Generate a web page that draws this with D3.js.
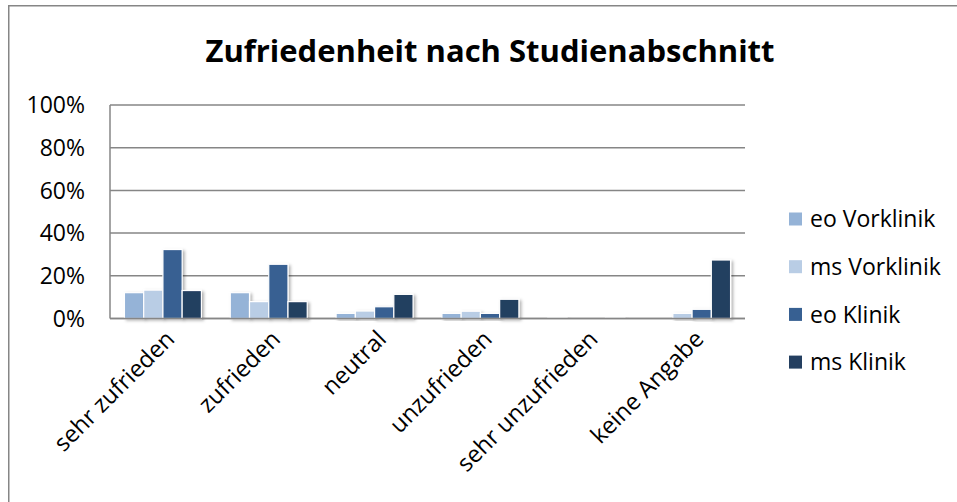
<!DOCTYPE html>
<html>
<head>
<meta charset="utf-8">
<script src="https://cdn.jsdelivr.net/npm/d3@7"></script>
<style>
	body { margin: 0; background: #fff; }
	svg { display: block; font-family: "Open Sans", sans-serif; }
	.title { font-weight: bold; font-size: 31px; fill: #000; }
	.yLabel { font-size: 23px; fill: #000; }
	.xLabel { font-size: 23.5px; fill: #000; }
	.legendText { font-size: 23px; fill: #000; }
	.grid { stroke: #868686; stroke-width: 1.5; }
</style>
</head>
<body>
<div id="vizCont"></div>
<script>
var categories = ['sehr zufrieden', 'zufrieden', 'neutral', 'unzufrieden', 'sehr unzufrieden', 'keine Angabe'];
var seriesNames = ['eo Vorklinik', 'ms Vorklinik', 'eo Klinik', 'ms Klinik'];
var seriesColors = ['#95b3d7', '#b9cde5', '#376092', '#243f60'];

// percentages per category
var eoVorklinik = [12.1, 12.1, 2.4, 2.4, 0.3, 0];
var msVorklinik = [13.3, 7.9, 3.5, 3.4, 0, 2.4];
var eoKlinik    = [32.3, 25.4, 5.5, 2.4, 0, 4.3];
var msKlinik    = [13.1, 7.9, 11.3, 9.0, 0.3, 27.4];

var yTicks = [0, 20, 40, 60, 80, 100];

// wait until everything on page loads
document.addEventListener("DOMContentLoaded", function() {

	var width = 957, height = 502;
	var allSeries = [eoVorklinik, msVorklinik, eoKlinik, msKlinik];

	var svg = d3.select('div#vizCont').append('svg')
		.attr('width', width)
		.attr('height', height);

	var defs = svg.append('defs');
	var shadow = defs.append('filter')
		.attr('id', 'barShadow')
		.attr('x', '-30%').attr('y', '-30%')
		.attr('width', '160%').attr('height', '160%');
	shadow.append('feDropShadow')
		.attr('dx', 2)
		.attr('dy', 1.5)
		.attr('stdDeviation', 1.6)
		.attr('flood-color', '#000')
		.attr('flood-opacity', 0.3);

	// outer frame (cut off at right and bottom)
	svg.append('rect')
		.attr('x', 8.75)
		.attr('y', 5.75)
		.attr('width', width + 20)
		.attr('height', height + 20)
		.attr('fill', 'none')
		.attr('stroke', '#868686')
		.attr('stroke-width', 1.5);

	svg.append('text')
		.attr('class', 'title')
		.attr('x', 490)
		.attr('y', 62)
		.attr('text-anchor', 'middle')
		.text('Zufriedenheit nach Studienabschnitt');

	var x0 = d3.scaleBand()
		.domain(categories)
		.range([110, 745]);

	// Excel default gap width 150%
	var x1 = d3.scaleBand()
		.domain(seriesNames)
		.range([0, x0.bandwidth() * 4 / 5.5]);

	var groupPad = (x0.bandwidth() - x1.range()[1]) / 2;

	var y = d3.scaleLinear()
		.domain([0, 100])
		.range([318.5, 105]);

	// gridlines
	svg.selectAll('line.grid')
		.data(yTicks)
		.enter()
		.append('line')
		.attr('class', 'grid')
		.attr('x1', 110)
		.attr('x2', 745)
		.attr('y1', d => y(d))
		.attr('y2', d => y(d));

	svg.append('line')
		.attr('class', 'grid')
		.attr('x1', 110)
		.attr('x2', 110)
		.attr('y1', y(100))
		.attr('y2', y(0));

	svg.selectAll('text.yLabel')
		.data(yTicks)
		.enter()
		.append('text')
		.attr('class', 'yLabel')
		.attr('x', 85)
		.attr('y', d => y(d))
		.attr('dy', '0.36em')
		.attr('text-anchor', 'end')
		.text(d => d + '%');

	// bars
	var groups = svg.selectAll('g.catGroup')
		.data(categories)
		.enter()
		.append('g')
		.attr('class', 'catGroup')
		.attr('transform', d => 'translate(' + (x0(d) + groupPad) + ',0)');

	groups.selectAll('rect')
		.data(function(c, i) {
			return seriesNames.map(function(s, j) {
				return {series: s, value: allSeries[j][i], color: seriesColors[j]};
			});
		})
		.enter()
		.append('rect')
		.attr('x', d => x1(d.series))
		.attr('width', x1.bandwidth())
		.attr('y', d => y(d.value))
		.attr('height', d => y(0) - y(d.value))
		.attr('fill', d => d.color)
		.attr('stroke', '#fff')
		.attr('stroke-width', 1.2)
		.attr('filter', 'url(#barShadow)');

	// baseline over bars
	svg.append('line')
		.attr('class', 'grid')
		.attr('x1', 110)
		.attr('x2', 745)
		.attr('y1', y(0))
		.attr('y2', y(0));

	svg.selectAll('text.xLabel')
		.data(categories)
		.enter()
		.append('text')
		.attr('class', 'xLabel')
		.attr('text-anchor', 'end')
		.attr('transform', d => 'translate(' + (x0(d) + x0.bandwidth() / 2 + 13) + ',' + (y(0) + 22) + ') rotate(-45)')
		.text(d => d);

	// legend
	var legend = svg.selectAll('g.legendItem')
		.data(seriesNames)
		.enter()
		.append('g')
		.attr('class', 'legendItem')
		.attr('transform', (d, i) => 'translate(789,' + (219 + i * 47.7) + ')');

	legend.append('rect')
		.attr('x', 0)
		.attr('y', -6.5)
		.attr('width', 13)
		.attr('height', 13)
		.attr('fill', (d, i) => seriesColors[i]);

	legend.append('text')
		.attr('class', 'legendText')
		.attr('x', 21)
		.attr('dy', '0.36em')
		.text(d => d);
});
</script>
</body>
</html>
